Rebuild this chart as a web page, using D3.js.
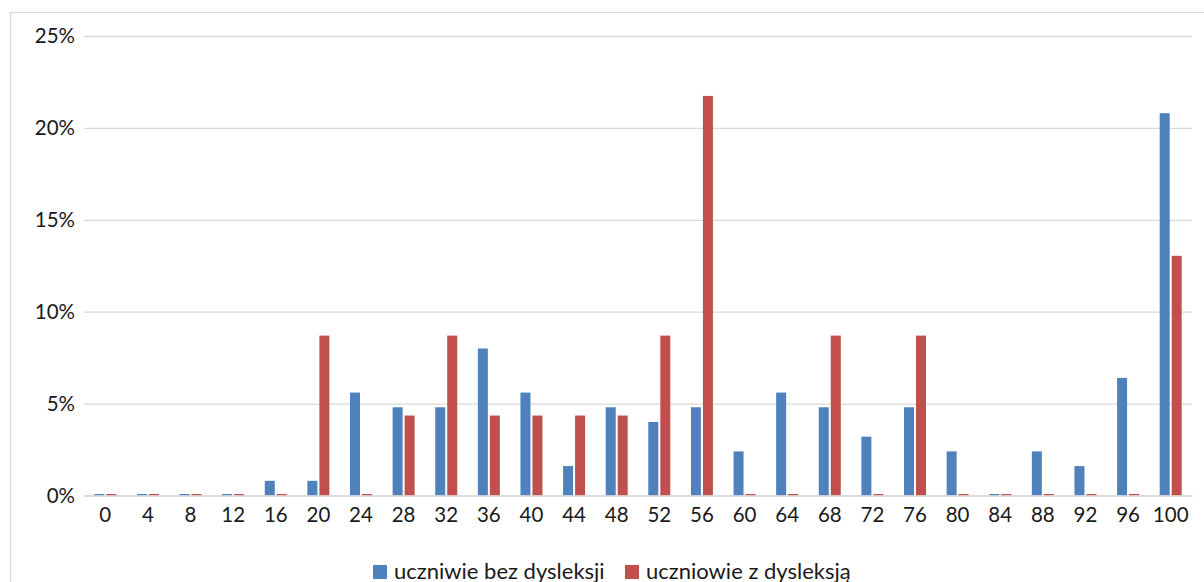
<!DOCTYPE html>
<html>
<head>
<meta charset="utf-8">
<script src="https://cdn.jsdelivr.net/npm/d3@7/dist/d3.min.js"></script>
<style>
  html, body { margin: 0; padding: 0; background: #fff; }
  svg { display: block; }
  text { font-family: Lato, "Open Sans", sans-serif; fill: #1a1a1a; }
</style>
</head>
<body>
<svg id="chart" width="1204" height="582"></svg>
<script>
const categories = ["0","4","8","12","16","20","24","28","32","36","40","44","48","52","56","60","64","68","72","76","80","84","88","92","96","100"];
const seriesNames = ["uczniwie bez dysleksji", "uczniowie z dysleksją"];
const bezDysleksji = [0, 0, 0, 0, 0.8, 0.8, 5.6, 4.8, 4.8, 8.0, 5.6, 1.6, 4.8, 4.0, 4.8, 2.4, 5.6, 4.8, 3.2, 4.8, 2.4, 0, 2.4, 1.6, 6.4, 20.8];
const zDysleksja = [0, 0, 0, 0, 0, 8.70, 0, 4.35, 8.70, 4.35, 4.35, 4.35, 4.35, 8.70, 21.74, 0, 0, 8.70, 0, 8.70, 0, 0, 0, 0, 0, 13.04];
const yTicks = [0, 5, 10, 15, 20, 25];
const colors = ["#4F81BD", "#C0504D"];

(function () {
const svg = d3.select("#chart");

// outer chart frame
svg.append("rect").attr("x", 10.5).attr("y", 12.5).attr("width", 1300).attr("height", 700)
  .attr("fill", "none").attr("stroke", "#d9d9d9").attr("stroke-width", 1.3);

const pLeft = 84, pRight = 1192, pTop = 36, pBottom = 495.5;

const y = d3.scaleLinear().domain([0, 25]).range([pBottom, pTop]);
const pi = 1 - 22 / ((pRight - pLeft) / categories.length);
const x0 = d3.scaleBand().domain(categories).range([pLeft, pRight]).paddingInner(pi).paddingOuter(pi / 2);
const x1 = d3.scaleBand().domain([0, 1]).range([0, x0.bandwidth()]).paddingInner(2 / 12);

// gridlines
const yAxis = d3.axisLeft(y).tickValues(yTicks).tickSize(-(pRight - pLeft)).tickFormat(d => d + "%").tickPadding(9);
const gy = svg.append("g").attr("transform", `translate(${pLeft},0)`).call(yAxis);
gy.select(".domain").remove();
gy.selectAll(".tick line").attr("stroke", "#d9d9d9").attr("stroke-width", 1.3);
gy.selectAll(".tick text").attr("font-size", 20.5).attr("fill", "#1a1a1a").style("font-family", "Lato, sans-serif");

// bars
const data = categories.map((c, i) => ({ c, vals: [bezDysleksji[i], zDysleksja[i]] }));
const groups = svg.append("g").selectAll("g").data(data).join("g")
  .attr("transform", d => `translate(${x0(d.c)},0)`);
groups.selectAll("rect").data(d => d.vals.map((v, k) => ({ v, k }))).join("rect")
  .attr("x", d => x1(d.k))
  .attr("width", x1.bandwidth())
  .attr("y", d => Math.min(y(d.v), pBottom - 1.5))
  .attr("height", d => Math.max(pBottom - y(d.v), 1.5))
  .attr("fill", d => colors[d.k]);

// x axis
const xAxis = d3.axisBottom(x0).tickSize(0).tickPadding(12);
const gx = svg.append("g").attr("transform", `translate(0,${pBottom})`).call(xAxis);
gx.select(".domain").attr("stroke", "#d9d9d9").attr("stroke-width", 1.3);
gx.selectAll(".tick text").attr("font-size", 20.5).attr("fill", "#1a1a1a").style("font-family", "Lato, sans-serif");

// legend
const legend = svg.append("g");
const legendX = [373, 625];
seriesNames.forEach((name, k) => {
  const g = legend.append("g").attr("transform", `translate(${legendX[k]},565)`);
  g.append("rect").attr("width", 14).attr("height", 14).attr("fill", colors[k]);
  g.append("text").attr("x", 21).attr("y", 13.5).attr("font-size", 22).text(name);
});
})();
</script>
</body>
</html>
